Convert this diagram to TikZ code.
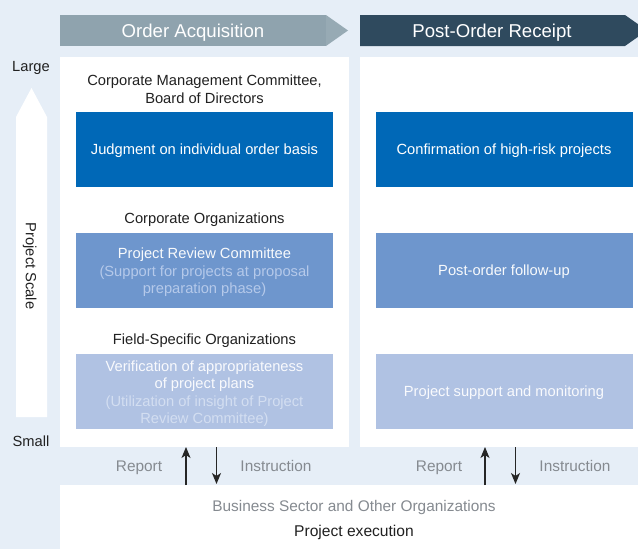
\documentclass[tikz,border=0pt]{standalone}
\usepackage{fontspec}
\setmainfont{Liberation Sans}
\usetikzlibrary{positioning,arrows.meta}
\definecolor{bgblue}{HTML}{E6EEF7}
\definecolor{headgray}{HTML}{8FA3AE}
\definecolor{headgraytip}{HTML}{97AAB4}
\definecolor{headnavy}{HTML}{2F4A5E}
\definecolor{deepblue}{HTML}{0068B7}
\definecolor{midblue}{HTML}{6E96CD}
\definecolor{paleblue}{HTML}{B0C2E3}
\definecolor{subtone}{HTML}{B5C9EA}
\definecolor{subpale}{HTML}{D3DEF1}
\definecolor{labelgray}{HTML}{858A90}

\begin{document}
\begin{tikzpicture}[
    x=1pt, y=-1pt,
    >={Stealth[length=11pt, width=9pt, inset=3pt]},
    every node/.style={inner sep=0pt, font=\fontsize{14.7}{17.5}\selectfont, text=black!87,
        text height=10.5pt, text depth=0pt},
    multiline/.style={align=center, text height=, text depth=},
    orgbox/.style={minimum width=257pt, minimum height=75pt, align=center},
    headtext/.style={font=\fontsize{18.6}{21}\selectfont, text=white, text height=13.3pt},
    steptext/.style={text=labelgray, font=\fontsize{15.4}{18}\selectfont, text height=11pt},
    flow/.style={->, line width=1.1pt, black!85}
]
\useasboundingbox (0,0) rectangle (638,549);
\fill[bgblue] (0,0) rectangle (638,549);

% phase headers
\fill[headgray] (60,15) rectangle (326,46);
\fill[headgraytip] (326,15) -- (348,30.5) -- (326,46) -- cycle;
\fill[headnavy] (360,15) -- (625,15) -- (647,30.5) -- (625,46) -- (360,46) -- cycle;
\node[headtext] (hdacq) at (193,30.5) {Order Acquisition};
\node[headtext] (hdpost) at (492,30.5) {Post-Order Receipt};

% panels
\fill[white] (60,57) rectangle (349,447);
\fill[white] (360,57) rectangle (638,447);
\fill[white] (60,485) rectangle (638,549);

% project scale arrow
\fill[white] (16,417) -- (16,117) -- (31.5,88) -- (47,117) -- (47,417) -- cycle;
\node (large) at (31,66) {Large};
\node (small) at (31,441) {Small};
\node[rotate=-90] (scale) at (31,266) {Project Scale};

% order acquisition column
\node[multiline] (mgmt) at (204.5,89) {Corporate Management Committee,\\Board of Directors};
\node[orgbox, fill=deepblue, text=white] (judge) at (204.5,149.5) {Judgment on individual order basis};
\node (corp) at (204.5,218) {Corporate Organizations};
\node[orgbox, fill=midblue] (review) at (204.5,270.5) {};
\node[multiline] (reviewtxt) at ([yshift=-2pt]review.center)
    {\textcolor{white!95!midblue}{Project Review Committee}\\
     \textcolor{subtone}{(Support for projects at proposal}\\
     \textcolor{subtone}{preparation phase)}};
\node (field) at (204.5,339) {Field-Specific Organizations};
\node[orgbox, fill=paleblue] (verify) at (204.5,391.5) {};
\node[multiline] (verifytxt) at ([yshift=-2pt]verify.center)
    {\textcolor{white!92!paleblue}{Verification of appropriateness}\\
     \textcolor{white!92!paleblue}{of project plans}\\
     \textcolor{subpale}{(Utilization of insight of Project}\\
     \textcolor{subpale}{Review Committee)}};

% post-order receipt column
\node[orgbox, fill=deepblue, text=white] (confirm) at (504,149.5) {Confirmation of high-risk projects};
\node[orgbox, fill=midblue, text=white!95!midblue] (follow) at (504,270.5) {Post-order follow-up};
\node[orgbox, fill=paleblue, text=white!92!paleblue] (support) at (504,391.5) {Project support and monitoring};

% report / instruction
\node[steptext] (reportL) at (139,466) {Report};
\node[steptext] (instrL) at (276,466) {Instruction};
\node[steptext] (reportR) at (439,466) {Report};
\node[steptext] (instrR) at (575,466) {Instruction};

\coordinate (upLa) at (186,485);
\coordinate (upLb) at (186,447);
\coordinate (dnLa) at (216.5,447);
\coordinate (dnLb) at (216.5,484);
\coordinate (upRa) at (485,485);
\coordinate (upRb) at (485,447);
\coordinate (dnRa) at (515.5,447);
\coordinate (dnRb) at (515.5,484);
\draw[flow] (upLa) -- (upLb);
\draw[flow] (dnLa) -- (dnLb);
\draw[flow] (upRa) -- (upRb);
\draw[flow] (dnRa) -- (dnRb);

% execution
\node[steptext] (sector) at (354,506) {Business Sector and Other Organizations};
\node[font=\fontsize{15.6}{18}\selectfont, text height=11.2pt] (exec) at (354,531) {Project execution};

\end{tikzpicture}
\end{document}
